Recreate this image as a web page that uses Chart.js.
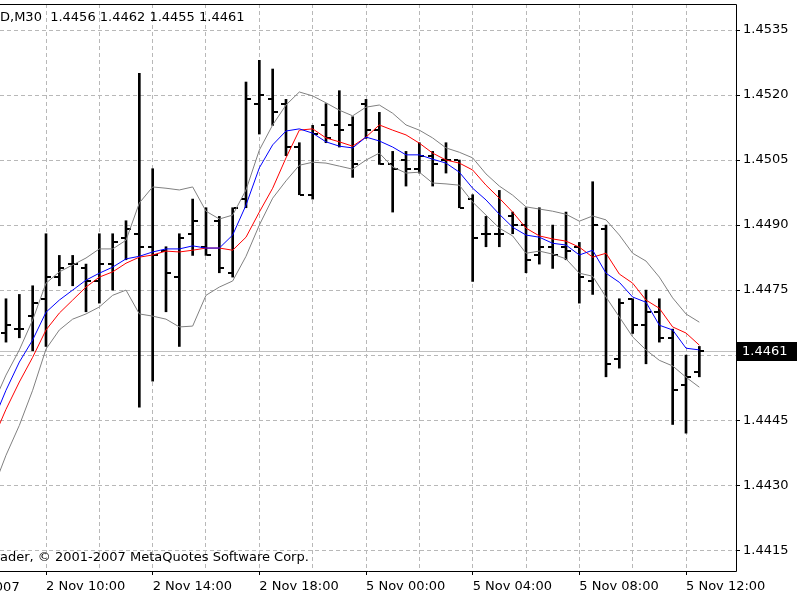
<!DOCTYPE html>
<html><head><meta charset="utf-8">
<script src="https://cdn.jsdelivr.net/npm/chart.js@4/dist/chart.umd.min.js"></script>
<style>html,body{margin:0;padding:0;background:#fff}#wrap{width:800px;height:600px}</style>
</head><body><div id="wrap"><canvas id="c" width="800" height="600"></canvas></div>
<script>
const SYMBOL_TITLE = 'EURUSD,M30';
const TITLE_HIDDEN = 'EURUS';
const COPYRIGHT = 'MetaTrader, © 2001-2007 MetaQuotes Software Corp.';
const COPYRIGHT_HIDDEN = 'MetaTr';
const FIRST_DATE_LABEL = '2 Nov 2007';
const FIRST_DATE_POS = -7.6;
const FIRST_INDEX = -4;
const TIMES = [
 '2 Nov 08:00','2 Nov 08:30','2 Nov 09:00','2 Nov 09:30',
 '2 Nov 10:00','2 Nov 10:30','2 Nov 11:00','2 Nov 11:30','2 Nov 12:00','2 Nov 12:30','2 Nov 13:00','2 Nov 13:30',
 '2 Nov 14:00','2 Nov 14:30','2 Nov 15:00','2 Nov 15:30','2 Nov 16:00','2 Nov 16:30','2 Nov 17:00','2 Nov 17:30',
 '2 Nov 18:00','2 Nov 18:30','2 Nov 19:00','2 Nov 19:30','2 Nov 20:00','2 Nov 20:30','2 Nov 21:00','2 Nov 21:30',
 '5 Nov 00:00','5 Nov 00:30','5 Nov 01:00','5 Nov 01:30','5 Nov 02:00','5 Nov 02:30','5 Nov 03:00','5 Nov 03:30',
 '5 Nov 04:00','5 Nov 04:30','5 Nov 05:00','5 Nov 05:30','5 Nov 06:00','5 Nov 06:30','5 Nov 07:00','5 Nov 07:30',
 '5 Nov 08:00','5 Nov 08:30','5 Nov 09:00','5 Nov 09:30','5 Nov 10:00','5 Nov 10:30','5 Nov 11:00','5 Nov 11:30',
 '5 Nov 12:00','5 Nov 12:30'
];
const OPEN = [null,1.4465,1.4466,1.4469,1.4473,1.4478,1.4481,1.4480,1.4477,1.4481,1.4487,1.4488,1.4485,1.4484,1.4478,1.4488,1.4485,1.4491,1.4479,1.4496,1.4518,1.4519,1.4518,1.4508,1.4497,1.4513,1.4513,1.4513,1.4518,1.4512,1.4504,1.4505,1.4503,1.4506,1.4505,1.4505,1.4496,1.4488,1.4488,1.4492,1.4490,1.4483,1.4485,1.4485,1.4485,1.4477,1.4489,1.4459,1.4473,1.4467,1.4470,1.4464,1.4453,1.4456];
const HIGH = [null,1.4473,1.4474,1.4476,1.4488,1.4483,1.4483,1.4481,1.4488,1.4488,1.4491,1.4525,1.4503,1.4485,1.4488,1.4496,1.4494,1.4492,1.4494,1.4523,1.4528,1.4526,1.4519,1.4509,1.4513,1.4518,1.4521,1.4515,1.4519,1.4516,1.4507,1.4507,1.4509,1.4507,1.4509,1.4505,1.4497,1.4492,1.4498,1.4493,1.4494,1.4494,1.4490,1.4493,1.4486,1.4500,1.4490,1.4473,1.4473,1.4475,1.4473,1.4466,1.4460,1.4462];
const LOW = [null,1.4463,1.4464,1.4461,1.4462,1.4476,1.4476,1.4470,1.4472,1.4475,1.4482,1.4448,1.4454,1.4470,1.4462,1.4483,1.4483,1.4479,1.4478,1.4494,1.4511,1.4513,1.4506,1.4497,1.4496,1.4509,1.4508,1.4501,1.4510,1.4504,1.4493,1.4499,1.4502,1.4499,1.4502,1.4494,1.4477,1.4485,1.4485,1.4488,1.4479,1.4481,1.4480,1.4482,1.4472,1.4474,1.4455,1.4457,1.4465,1.4458,1.4463,1.4444,1.4442,1.4455];
const CLOSE = [null,1.4467,1.4466,1.4472,1.4478,1.4480,1.4481,1.4477,1.4481,1.4486,1.4489,1.4485,1.4483,1.4479,1.4487,1.4491,1.4483,1.4480,1.4494,1.4519,1.4520,1.4516,1.4508,1.4497,1.4511,1.4510,1.4512,1.4504,1.4512,1.4504,1.4503,1.4503,1.4506,1.4504,1.4505,1.4494,1.4487,1.4488,1.4488,1.4490,1.4482,1.4485,1.4483,1.4484,1.4478,1.4490,1.4458,1.4472,1.4467,1.4470,1.4464,1.4452,1.4455,1.4461];
const MA_BLUE = [1.44445,1.44519,1.44584,1.44635,1.44699,1.44727,1.44750,1.44773,1.44789,1.44803,1.44822,1.44828,1.44838,1.44845,1.44845,1.44852,1.44847,1.44847,1.44877,1.44946,1.45032,1.45085,1.45117,1.45122,1.45112,1.45092,1.45082,1.45078,1.45103,1.45094,1.45080,1.45062,1.45062,1.45052,1.45043,1.45022,1.44985,1.44958,1.44925,1.44895,1.44877,1.44872,1.44858,1.44854,1.44831,1.44842,1.44789,1.44768,1.44734,1.44722,1.44669,1.44658,1.44616,1.44612];
const MA_RED = [1.44404,1.44475,1.44538,1.44595,1.44658,1.44697,1.44727,1.44757,1.44780,1.44792,1.44812,1.44826,1.44831,1.44840,1.44838,1.44842,1.44847,1.44847,1.44842,1.44872,1.44930,1.44985,1.45055,1.45119,1.45122,1.45101,1.45092,1.45082,1.45103,1.45131,1.45119,1.45108,1.45089,1.45066,1.45050,1.45043,1.45027,1.44992,1.44962,1.44930,1.44893,1.44875,1.44868,1.44863,1.44849,1.44826,1.44835,1.44787,1.44766,1.44727,1.44708,1.44665,1.44651,1.44623];
const BAND_UPPER = [1.44485,1.44554,1.44612,1.44681,1.44766,1.44792,1.44808,1.44824,1.44845,1.44845,1.44865,1.44951,1.44988,1.44985,1.44981,1.44988,1.44932,1.44914,1.44923,1.44981,1.45073,1.45131,1.45177,1.45207,1.45198,1.45182,1.45165,1.45152,1.45172,1.45177,1.45158,1.45131,1.45119,1.45101,1.45078,1.45068,1.45055,1.45018,1.44990,1.44969,1.44942,1.44937,1.44932,1.44925,1.44909,1.44921,1.44912,1.44877,1.44835,1.44817,1.44780,1.44732,1.44695,1.44676];
const BAND_LOWER = [1.44289,1.44369,1.44438,1.44519,1.44614,1.44658,1.44683,1.44695,1.44711,1.44738,1.44750,1.44695,1.44690,1.44683,1.44665,1.44667,1.44738,1.44757,1.44771,1.44828,1.44900,1.44962,1.45002,1.45038,1.45045,1.45043,1.45036,1.45029,1.45050,1.45066,1.45034,1.45020,1.45022,1.44997,1.44995,1.44992,1.44953,1.44923,1.44893,1.44875,1.44835,1.44840,1.44833,1.44822,1.44789,1.44782,1.44734,1.44688,1.44642,1.44612,1.44588,1.44575,1.44549,1.44526];
const Y_TICKS = [1.4415,1.4430,1.4445,1.4460,1.4475,1.4490,1.4505,1.4520,1.4535];
const Y_MIN = 1.44102, Y_MAX = 1.4541;
const X_MIN = -3.45, X_MAX = 51.75;
const X_GRID_STEP = 4, X_LABEL_STEP = 8;
const LAST_PRICE = 1.4461;

const FONT = '13px "DejaVu Sans"';
const idx = k => k + FIRST_INDEX;
const toXY = arr => arr.map((v, k) => ({x: idx(k), y: v}));
const wicks = LOW.map((l, k) => l == null ? null : {x: idx(k), y: [l, HIGH[k]]}).filter(Boolean);

const lineDs = (label, arr, color, order) => ({
  type: 'line', label, data: toXY(arr), borderColor: color, borderWidth: 1,
  pointRadius: 0, fill: false, tension: 0, order
});

const ohlcTicks = {
  id: 'ohlcTicks',
  beforeDatasetsDraw(chart) {
    const {ctx, chartArea: a, scales: {x, y}} = chart;
    ctx.save();
    ctx.beginPath(); ctx.rect(a.left, a.top, a.right - a.left, a.bottom - a.top); ctx.clip();
    const yl = Math.round(y.getPixelForValue(LAST_PRICE)) + 0.5;
    ctx.strokeStyle = '#c0c0c0'; ctx.lineWidth = 1;
    ctx.beginPath(); ctx.moveTo(a.left, yl); ctx.lineTo(a.right, yl); ctx.stroke();
    ctx.fillStyle = '#000';
    for (let k = 0; k < OPEN.length; k++) {
      if (OPEN[k] == null) continue;
      const px = Math.round(x.getPixelForValue(idx(k)));
      const po = Math.round(y.getPixelForValue(OPEN[k]));
      const pc = Math.round(y.getPixelForValue(CLOSE[k]));
      ctx.fillRect(px - 5, po - 1, 4, 2);
      ctx.fillRect(px + 1, pc - 1, 4, 2);
    }
    ctx.restore();
  },
  afterDraw(chart) {
    const {ctx, chartArea: a, scales: {x, y}} = chart;
    ctx.save();
    ctx.strokeStyle = '#000'; ctx.lineWidth = 1;
    ctx.beginPath();
    ctx.moveTo(0, a.top + 0.5); ctx.lineTo(a.right + 0.5, a.top + 0.5);
    ctx.lineTo(a.right + 0.5, a.bottom + 0.5); ctx.lineTo(0, a.bottom + 0.5);
    ctx.stroke();
    ctx.font = FONT; ctx.fillStyle = '#000'; ctx.textBaseline = 'middle'; ctx.textAlign = 'left';
    const tx = -ctx.measureText(TITLE_HIDDEN).width;
    const vals = [OPEN, HIGH, LOW, CLOSE].map(arr => arr[arr.length - 1].toFixed(4)).join(' ');
    ctx.fillText(SYMBOL_TITLE + '  ' + vals, tx, a.top + 14);
    ctx.fillText(COPYRIGHT, -ctx.measureText(COPYRIGHT_HIDDEN).width, a.bottom - 13);
    ctx.fillText(FIRST_DATE_LABEL, x.getPixelForValue(FIRST_DATE_POS), a.bottom + 17);
    const yl = Math.round(y.getPixelForValue(LAST_PRICE));
    ctx.fillStyle = '#000';
    ctx.fillRect(a.right + 1, yl - 9, 60, 19);
    ctx.fillStyle = '#fff';
    ctx.fillText(LAST_PRICE.toFixed(4), a.right + 6, yl + 1);
    ctx.restore();
  }
};

new Chart(document.getElementById('c'), {
  data: {
    datasets: [
      lineDs('Upper band', BAND_UPPER, '#808080', 4),
      lineDs('Lower band', BAND_LOWER, '#808080', 4),
      lineDs('MA red', MA_RED, '#ff0000', 3),
      lineDs('MA blue', MA_BLUE, '#0000ff', 2),
      {type: 'bar', label: 'High-Low', data: wicks, backgroundColor: '#000', borderWidth: 0,
       barThickness: 2, order: 6}
    ]
  },
  options: {
    responsive: false, animation: false, events: [],
    layout: {padding: {top: 4, left: 0, right: 0, bottom: 0}},
    plugins: {legend: {display: false}, tooltip: {enabled: false}},
    scales: {
      x: {
        type: 'linear', min: X_MIN, max: X_MAX, position: 'bottom', offset: false,
        afterBuildTicks: s => { const t = []; for (let v = 0; v <= X_MAX; v += X_GRID_STEP) t.push({value: v}); s.ticks = t; },
        afterFit: s => { s.height = 29; s.paddingLeft = 0; s.paddingRight = 0; },
        border: {display: false, dash: [4, 3]},
        grid: {offset: false, color: '#b8b8b8', lineWidth: 1, drawTicks: true, tickLength: 4,
               tickColor: c => (c.tick && c.tick.value % X_LABEL_STEP === 0) ? '#000' : 'rgba(0,0,0,0)',
               tickBorderDash: []},
        ticks: {autoSkip: false, maxRotation: 0, minRotation: 0, align: 'start', padding: 4, color: '#000',
                font: {family: 'DejaVu Sans', size: 13},
                callback: v => (v % X_LABEL_STEP === 0) ? TIMES[v - FIRST_INDEX] : ''}
      },
      y: {
        type: 'linear', min: Y_MIN, max: Y_MAX, position: 'right',
        afterBuildTicks: s => { s.ticks = Y_TICKS.map(v => ({value: v})); },
        afterFit: s => { s.width = 64; s.paddingTop = 0; s.paddingBottom = 0; },
        border: {display: false, dash: [4, 3]},
        grid: {color: '#b8b8b8', lineWidth: 1, drawTicks: true, tickLength: 4, tickColor: '#000', tickBorderDash: []},
        ticks: {padding: 3, color: '#000', font: {family: 'DejaVu Sans', size: 13},
                callback: v => Number(v).toFixed(4)}
      }
    }
  },
  plugins: [ohlcTicks]
});
</script></body></html>
